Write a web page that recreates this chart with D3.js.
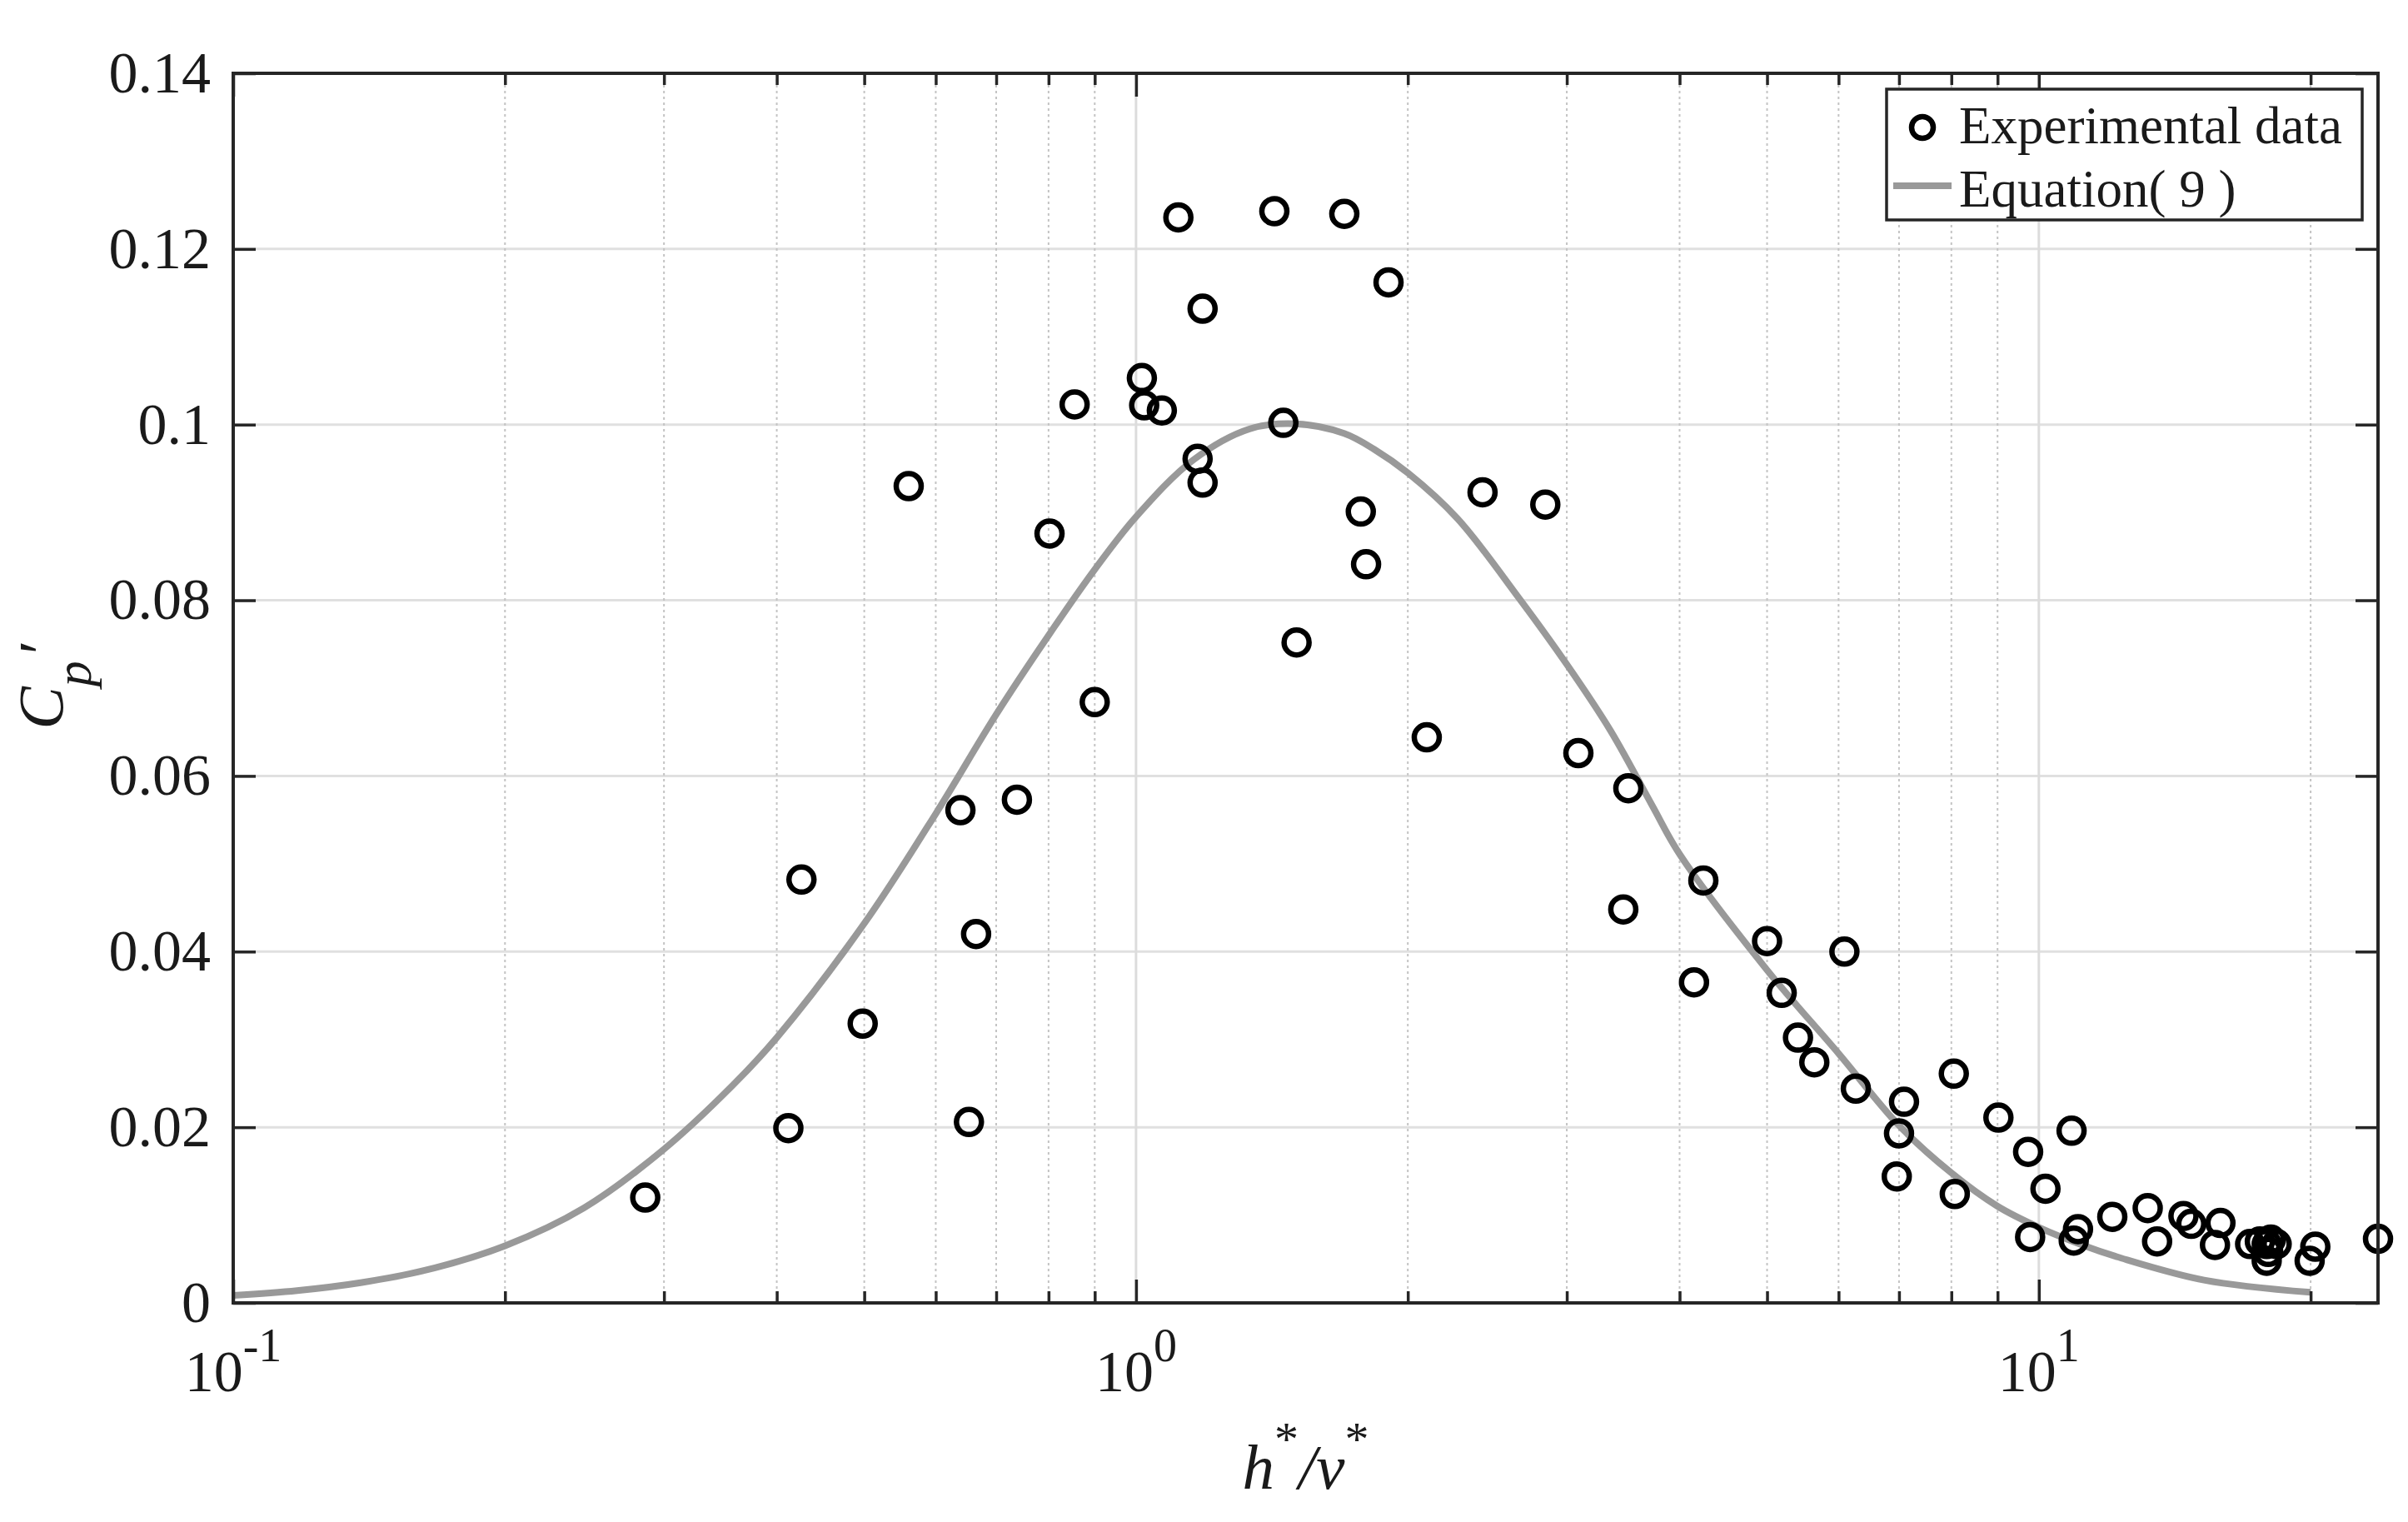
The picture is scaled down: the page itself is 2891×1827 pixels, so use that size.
<!DOCTYPE html>
<html>
<head>
<meta charset="utf-8">
<script src="https://cdn.jsdelivr.net/npm/d3@7"></script>
<style>
  body { margin: 0; background: #fff; }
  text { font-family: "Liberation Serif", "Times New Roman", serif; fill: #1a1a1a; white-space: pre; }
</style>
</head>
<body>
<div id="plot"></div>
<script>
// Experimental data (h*/v*, Cp')
var expX = [0.286, 0.412, 0.426, 0.498, 0.560, 0.639, 0.653, 0.665, 0.738, 0.802,
            0.855, 0.900, 1.015, 1.021, 1.068, 1.114, 1.170, 1.185, 1.185, 1.423,
            1.456, 1.506, 1.701, 1.774, 1.798, 1.904, 2.099, 2.42, 2.84, 3.09,
            3.465, 3.51, 4.15, 4.25, 5.00, 5.19, 5.41, 5.64, 6.09, 6.27,
            6.96, 7.00, 7.09, 8.05, 8.07, 9.02, 9.73, 9.78, 10.17, 10.87,
            10.93, 11.05, 12.06, 13.20, 13.52, 14.46, 14.75, 15.67, 15.89, 17.14,
            17.57, 17.88, 17.88, 17.95, 18.07, 18.34, 19.95, 20.24, 23.75];
var expY = [0.0120, 0.0199, 0.0482, 0.0318, 0.0930, 0.0561, 0.0206, 0.0420, 0.0573, 0.0876,
            0.1023, 0.0684, 0.1053, 0.1022, 0.1016, 0.1236, 0.0961, 0.1132, 0.0934, 0.1243,
            0.1002, 0.0752, 0.1240, 0.0901, 0.0841, 0.1162, 0.0644, 0.0923, 0.0909, 0.0626,
            0.0448, 0.0586, 0.0365, 0.0481, 0.0412, 0.0353, 0.0302, 0.0274, 0.0400, 0.0244,
            0.0144, 0.0193, 0.0229, 0.0261, 0.0124, 0.0211, 0.0172, 0.0075, 0.0130, 0.0196,
            0.0071, 0.0084, 0.0098, 0.0108, 0.0070, 0.0099, 0.0090, 0.0066, 0.0091, 0.0067,
            0.0070, 0.0067, 0.0048, 0.0058, 0.0072, 0.0067, 0.0048, 0.0064, 0.0073];

// Equation (9) curve
var eqX = [0.1, 0.1177, 0.1384, 0.163, 0.2, 0.2445, 0.3, 0.3577, 0.4, 0.5,
           0.6, 0.7, 0.8, 0.9, 1.0, 1.158, 1.335, 1.5, 1.7, 1.835,
           2.0, 2.27, 2.653, 3.0, 3.352, 3.727, 4.0, 5.0, 6.0, 7.0,
           8.0, 9.0, 10.0, 11.17, 12.34, 15.24, 20];
var eqY = [0.00085, 0.0014, 0.0023, 0.0037, 0.0065, 0.0108, 0.0175, 0.0248, 0.0302, 0.0432,
           0.0557, 0.0670, 0.0760, 0.0835, 0.0895, 0.0960, 0.0995, 0.1001, 0.0990, 0.0972,
           0.0945, 0.0893, 0.0803, 0.0727, 0.0652, 0.0567, 0.0511, 0.0379, 0.0284, 0.0202,
           0.0148, 0.0110, 0.0086, 0.0066, 0.0051, 0.0026, 0.0012];

var xDomain = [0.1, 23.75];
var yDomain = [0, 0.14];
var yTicks = [0, 0.02, 0.04, 0.06, 0.08, 0.1, 0.12, 0.14];
var xMajor = [0.1, 1, 10];
var xMajorExp = ["-1", "0", "1"];
var xMinor = [0.2, 0.3, 0.4, 0.5, 0.6, 0.7, 0.8, 0.9, 2, 3, 4, 5, 6, 7, 8, 9, 20];

var legendLabels = ["Experimental data", "Equation( 9 )"];

var W = 2891, H = 1827;
var margin = {top: 88, right: 36, bottom: 263, left: 280},
    width = W - margin.left - margin.right,
    height = H - margin.top - margin.bottom;

var axisColor = "#262626";

var svg = d3.select("#plot")
    .append("svg")
    .attr("width", W)
    .attr("height", H)
    .append("g")
    .attr("transform", "translate(" + margin.left + "," + margin.top + ")");

var x = d3.scaleLog().domain(xDomain).range([0, width]);
var y = d3.scaleLinear().domain(yDomain).range([height, 0]);

// grid
svg.append("g").selectAll("line.hg")
    .data(yTicks.slice(1, -1))
    .enter().append("line")
    .attr("x1", 0).attr("x2", width)
    .attr("y1", function (d) { return y(d); })
    .attr("y2", function (d) { return y(d); })
    .style("stroke", "#e0e0e0").style("stroke-width", 3);

svg.append("g").selectAll("line.vm")
    .data(xMinor)
    .enter().append("line")
    .attr("x1", function (d) { return x(d); })
    .attr("x2", function (d) { return x(d); })
    .attr("y1", 0).attr("y2", height)
    .style("stroke", "#c4c4c4").style("stroke-width", 2)
    .style("stroke-dasharray", "3,4");

svg.append("g").selectAll("line.vM")
    .data(xMajor.slice(1))
    .enter().append("line")
    .attr("x1", function (d) { return x(d); })
    .attr("x2", function (d) { return x(d); })
    .attr("y1", 0).attr("y2", height)
    .style("stroke", "#dcdcdc").style("stroke-width", 3);

// Equation (9) line
var line = d3.line()
    .x(function (d) { return x(d[0]); })
    .y(function (d) { return y(d[1]); })
    .curve(d3.curveCatmullRom.alpha(0.5));

svg.append("path")
    .datum(d3.zip(eqX, eqY))
    .attr("d", line)
    .style("fill", "none")
    .style("stroke", "#999999")
    .style("stroke-width", 8);

// experimental points
svg.append("g")
    .selectAll("circle")
    .data(d3.zip(expX, expY))
    .enter()
    .append("circle")
    .attr("cx", function (d) { return x(d[0]); })
    .attr("cy", function (d) { return y(d[1]); })
    .attr("r", 15)
    .style("fill", "none")
    .style("stroke", "#000")
    .style("stroke-width", 6.5);

// axes with inward ticks
function styleAxis(g) {
    g.select(".domain").remove();
    g.selectAll(".tick line").style("stroke", axisColor).style("stroke-width", 3.5);
}

svg.append("g")
    .attr("transform", "translate(0," + height + ")")
    .call(d3.axisBottom(x).tickValues(xMajor).tickSize(-28).tickFormat(""))
    .call(styleAxis);
svg.append("g")
    .attr("transform", "translate(0," + height + ")")
    .call(d3.axisBottom(x).tickValues(xMinor).tickSize(-14).tickFormat(""))
    .call(styleAxis);
svg.append("g")
    .call(d3.axisTop(x).tickValues(xMajor).tickSize(-28).tickFormat(""))
    .call(styleAxis);
svg.append("g")
    .call(d3.axisTop(x).tickValues(xMinor).tickSize(-14).tickFormat(""))
    .call(styleAxis);

var yAxis = svg.append("g")
    .call(d3.axisLeft(y).tickValues(yTicks).tickSize(-27).tickPadding(27).tickFormat(d3.format("~g")))
    .call(styleAxis);
yAxis.selectAll(".tick text")
    .style("font-size", "70px")
    .style("font-family", "'Liberation Serif', serif")
    .style("fill", "#1a1a1a");

svg.append("g")
    .attr("transform", "translate(" + width + ",0)")
    .call(d3.axisRight(y).tickValues(yTicks).tickSize(-27).tickFormat(""))
    .call(styleAxis);

// x tick labels 10^n
var xl = svg.append("g").selectAll("text.xl")
    .data(d3.zip(xMajor, xMajorExp))
    .enter().append("text")
    .attr("x", function (d) { return x(d[0]); })
    .attr("y", height + 106)
    .attr("text-anchor", "middle")
    .style("font-size", "70px");
xl.append("tspan").text("10");
xl.append("tspan")
    .attr("dy", -36)
    .style("font-size", "56px")
    .text(function (d) { return d[1]; });

// box
svg.append("rect")
    .attr("width", width).attr("height", height)
    .style("fill", "none")
    .style("stroke", axisColor)
    .style("stroke-width", 4);

// axis labels
var xlab = svg.append("text")
    .attr("x", width / 2)
    .attr("y", height + 223)
    .attr("text-anchor", "middle")
    .style("font-size", "77px")
    .style("font-style", "italic");
xlab.append("tspan").text("h");
xlab.append("tspan").attr("dy", -40).style("font-size", "58px").style("font-style", "normal").text("*");
xlab.append("tspan").attr("dy", 40).text("/v");
xlab.append("tspan").attr("dy", -40).style("font-size", "58px").style("font-style", "normal").text("*");

var ylab = svg.append("text")
    .attr("transform", "translate(" + (75 - margin.left) + "," + (822 - margin.top) + ") rotate(-90)")
    .attr("text-anchor", "middle")
    .style("font-size", "77px")
    .style("font-style", "italic");
ylab.append("tspan").text("C");
ylab.append("tspan").attr("dy", 34).style("font-size", "62px").text("p");
ylab.append("tspan").attr("dy", -34).attr("dx", 8).style("font-style", "normal").text("\u2032");

// legend
var lg = svg.append("g")
    .attr("transform", "translate(" + (2265 - margin.left) + "," + (107 - margin.top) + ")");
lg.append("rect")
    .attr("width", 571).attr("height", 157)
    .style("fill", "#fff")
    .style("stroke", axisColor)
    .style("stroke-width", 3.5);
lg.append("circle")
    .attr("cx", 43).attr("cy", 46).attr("r", 13)
    .style("fill", "none").style("stroke", "#000").style("stroke-width", 6.5);
lg.append("line")
    .attr("x1", 8).attr("x2", 78).attr("y1", 116).attr("y2", 116)
    .style("stroke", "#999999").style("stroke-width", 8);
lg.selectAll("text")
    .data(legendLabels)
    .enter().append("text")
    .attr("x", 87)
    .attr("y", function (d, i) { return 65 + i * 76; })
    .style("font-size", "63px")
    .text(function (d) { return d; });
</script>
</body>
</html>
